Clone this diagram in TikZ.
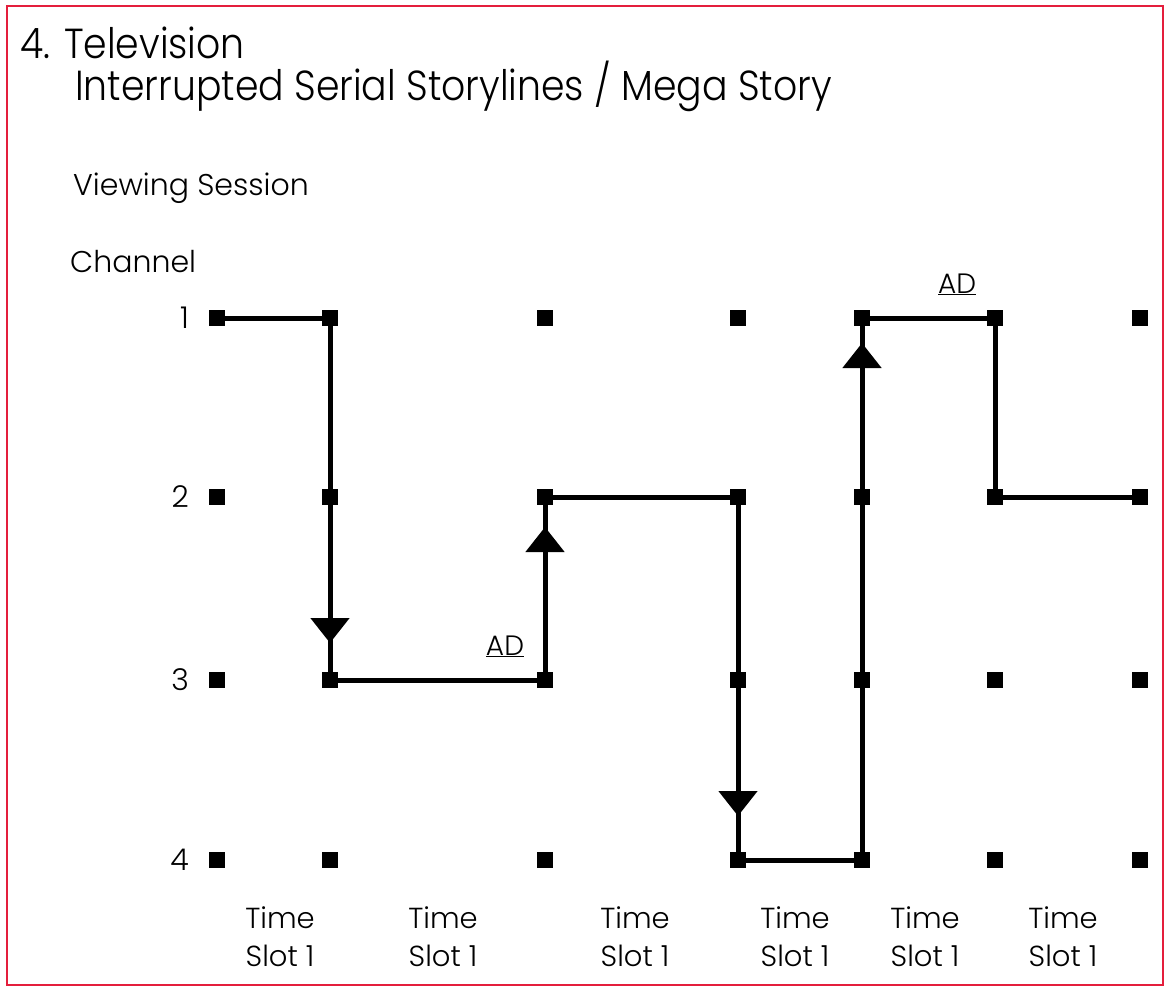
\documentclass[tikz,border=0pt]{standalone}
\usepackage{fontspec}
\setmainfont{Poppins}[UprightFont=* Light]
\newfontfamily\titlefont{Poppins}[UprightFont=* Light,FakeStretch=0.9]
\usetikzlibrary{arrows.meta,decorations.markings}
\definecolor{frame}{RGB}{228,30,60}
\tikzset{
  dot/.style={fill=black,minimum size=16pt,inner sep=0pt,outer sep=0pt,rectangle},
  conn/.style={line width=5pt,black},
  arr/.style={postaction={decorate},decoration={markings,mark=at position #1 with {\arrow{Triangle[width=38pt,length=25pt]}}}},
  lbl/.style={font=\fontsize{30}{36}\selectfont,inner sep=0pt},
  ttl/.style={font=\titlefont\fontsize{42}{48}\selectfont,inner sep=0pt,anchor=base west},
  slot/.style={font=\fontsize{29}{38}\selectfont,align=center,inner sep=0pt},
  ad/.style={font=\fontsize{28}{30}\selectfont,inner sep=0pt},
}
\begin{document}
\begin{tikzpicture}[x=1pt,y=-1pt]
\useasboundingbox (0,0) rectangle (1172,994);
\draw[frame,line width=2.5pt] (7,6) rectangle (1163,985);
% titles
\node[ttl] (t1) at (20,58) {4. Television};
\node[ttl] (t2) at (75,100) {Interrupted Serial Storylines / Mega Story};
\node[anchor=base west,lbl] (vs) at (73,195) {Viewing Session};
\node[anchor=base west,lbl] (ch) at (70,272) {Channel};
% channel numbers
\foreach \r/\y in {1/318,2/497,3/680,4/860}{
  \node[anchor=east,lbl] (lab\r) at (189,\y) {\r};
}
% grid of dots
\foreach \c/\x in {1/217,2/330,3/545,4/738,5/862,6/995,7/1140}{
  \foreach \r/\y in {1/318,2/497,3/680,4/860}{
    \node[dot] (n\r\c) at (\x,\y) {};
  }
}
% path
\draw[conn] (n11.center) -- (n12.center);
\draw[conn,arr=-37pt] (n12.center) -- (n32.center);
\draw[conn] (n32.center) -- (n33.center);
\draw[conn,arr=-30pt] (n33.center) -- (n23.center);
\draw[conn] (n23.center) -- (n24.center);
\draw[conn,arr=-44pt] (n24.center) -- (n44.center);
\draw[conn] (n44.center) -- (n45.center);
\draw[conn,arr=-25pt] (n45.center) -- (n15.center);
\draw[conn] (n15.center) -- (n16.center);
\draw[conn] (n16.center) -- (n26.center);
\draw[conn] (n26.center) -- (n27.center);
% AD labels
\node[ad,anchor=base] (ad1) at (505,655) {\underline{AD}};
\node[ad,anchor=base] (ad2) at (957,293) {\underline{AD}};
% time slots
\foreach \i/\x in {1/280,2/443,3/635,4/795,5/925,6/1063}{
  \node[slot] (ts\i) at (\x,937) {Time\\Slot 1};
}
\end{tikzpicture}
\end{document}
